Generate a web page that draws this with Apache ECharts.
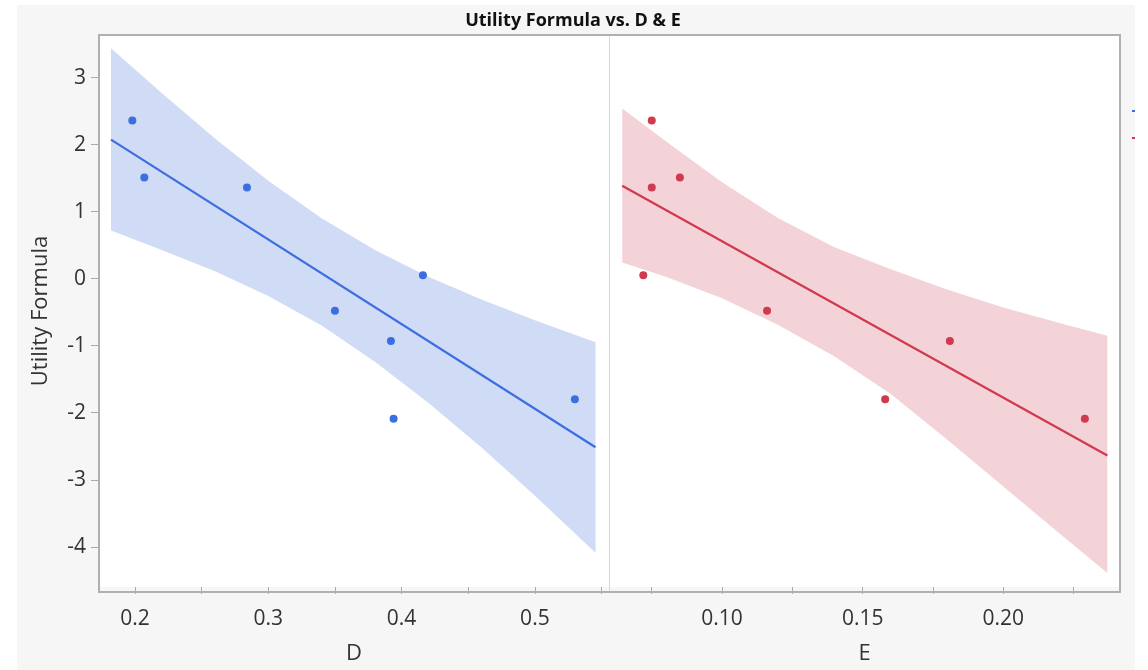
<!DOCTYPE html>
<html>
<head>
    <meta charset="utf-8">
    <style>
        html, body {
            width: 100%;
            height: 100%;
            margin: 0;
            background: #fff;
        }

        #chart-panel {
            width: 1148px;
            height: 670px;
        }
    </style>
    <script src="https://cdn.jsdelivr.net/npm/echarts@6/dist/echarts.min.js"></script>
</head>
<body>
<div id="chart-panel"></div>
<script type="text/javascript">
  // the 8 runs: utility against D and E
  var utility = [2.36, 1.51, 1.36, -0.48, -0.93, 0.05, -2.09, -1.80];
  var dVals = [0.198, 0.207, 0.284, 0.350, 0.392, 0.416, 0.394, 0.530];
  var eVals = [0.075, 0.085, 0.075, 0.116, 0.181, 0.072, 0.229, 0.158];

  // line of fit at both ends
  var dFitX = [0.182, 0.5455];
  var dFitY = [2.075, -2.515];
  var eFitX = [0.0645, 0.237];
  var eFitY = [1.386, -2.638];

  // confidence band of the fit
  var dBandX = [0.182, 0.22, 0.26, 0.30, 0.34, 0.38, 0.42, 0.46, 0.50, 0.5455];
  var dBandHi = [3.44, 2.77, 2.09, 1.46, 0.90, 0.43, 0.03, -0.31, -0.62, -0.95];
  var dBandLo = [0.72, 0.43, 0.11, -0.26, -0.70, -1.24, -1.85, -2.52, -3.24, -4.09];
  var eBandX = [0.0645, 0.08, 0.10, 0.12, 0.14, 0.16, 0.18, 0.20, 0.22, 0.237];
  var eBandHi = [2.54, 2.05, 1.44, 0.90, 0.47, 0.14, -0.16, -0.43, -0.66, -0.85];
  var eBandLo = [0.24, 0.03, -0.29, -0.69, -1.16, -1.72, -2.40, -3.10, -3.80, -4.39];

  // ticks and labels
  var yTicks = [-4, -3, -2, -1, 0, 1, 2, 3];
  var dTicks = [0.2, 0.25, 0.3, 0.35, 0.4, 0.45, 0.5, 0.55];
  var dLabels = [0.2, 0.3, 0.4, 0.5];
  var eTicks = [0.075, 0.1, 0.125, 0.15, 0.175, 0.2, 0.225];
  var eLabels = [0.10, 0.15, 0.20];

  var blue = '#3d6ee0';
  var red = '#d1394e';
  var font = "'Open Sans', 'Liberation Sans', sans-serif";

  function pairs(xs, ys) {
    return xs.map(function (x, i) { return [x, ys[i]]; });
  }

  function xAxis(idx, name, min, max, ticks, labels, digits) {
    return {
      type: 'value',
      gridIndex: idx,
      name: name,
      nameLocation: 'middle',
      nameGap: 56,
      nameTextStyle: {fontSize: 22, color: '#333', fontFamily: font},
      min: min,
      max: max,
      axisLine: {show: false, onZero: false},
      axisTick: {show: true, length: 7, customValues: ticks, lineStyle: {color: '#aaa'}},
      axisLabel: {
        customValues: labels,
        margin: 22,
        fontSize: 21,
        color: '#333',
        fontFamily: font,
        formatter: function (v) { return v.toFixed(digits); }
      },
      splitLine: {show: false}
    };
  }

  function yAxis(idx, visible) {
    return {
      type: 'value',
      gridIndex: idx,
      min: -4.6,
      max: 3.636,
      show: visible,
      name: visible ? 'Utility Formula' : '',
      nameLocation: 'middle',
      nameGap: 47,
      nameTextStyle: {fontSize: 22, color: '#333', fontFamily: font},
      axisLine: {show: false, onZero: false},
      axisTick: {show: true, length: 8, customValues: yTicks, lineStyle: {color: '#aaa'}},
      axisLabel: {customValues: yTicks, margin: 13, fontSize: 21, color: '#333', fontFamily: font},
      splitLine: {show: false}
    };
  }

  // band drawn as one polygon: upper edge left to right, lower edge back
  function bandSeries(idx, xs, hi, lo, fill) {
    return {
      type: 'custom',
      xAxisIndex: idx,
      yAxisIndex: idx,
      silent: true,
      z: 1,
      data: xs.map(function (x, i) { return [x, lo[i], hi[i]]; }),
      renderItem: function (params, api) {
        if (params.dataIndex !== 0) return null;
        var pts = [];
        xs.forEach(function (x, i) { pts.push(api.coord([x, hi[i]])); });
        for (var i = xs.length - 1; i >= 0; i--) pts.push(api.coord([xs[i], lo[i]]));
        return {type: 'polygon', shape: {points: pts}, style: {fill: fill}};
      }
    };
  }

  var myChart = echarts.init(document.getElementById('chart-panel'));

  var option = {
    backgroundColor: '#f6f6f6',
    animation: false,
    title: {
      text: 'Utility Formula vs. D & E',
      left: 568,
      top: 7,
      textAlign: 'center',
      textStyle: {fontSize: 18, fontWeight: 'bold', color: '#111', fontFamily: font}
    },
    legend: {
      orient: 'vertical',
      left: 1127,
      top: 105,
      itemWidth: 10,
      itemHeight: 2,
      itemGap: 25,
      selectedMode: false,
      formatter: function () { return ''; },
      textStyle: {fontSize: 1, lineHeight: 2},
      data: [{name: 'D fit', icon: 'rect'}, {name: 'E fit', icon: 'rect'}]
    },
    grid: [
      {left: 99, top: 35, width: 510, height: 557, show: true, backgroundColor: '#fff', borderWidth: 0},
      {left: 609, top: 35, width: 511, height: 557, show: true, backgroundColor: '#fff', borderWidth: 0}
    ],
    xAxis: [
      xAxis(0, 'D', 0.173, 0.5556, dTicks, dLabels, 1),
      xAxis(1, 'E', 0.0598, 0.2415, eTicks, eLabels, 2)
    ],
    yAxis: [yAxis(0, true), yAxis(1, false)],
    series: [
      bandSeries(0, dBandX, dBandHi, dBandLo, '#d0dcf5'),
      bandSeries(1, eBandX, eBandHi, eBandLo, '#f4d3d8'),
      {
        name: 'D fit',
        type: 'line',
        xAxisIndex: 0,
        yAxisIndex: 0,
        symbol: 'none',
        z: 3,
        color: blue,
        lineStyle: {width: 2.2, color: blue},
        data: pairs(dFitX, dFitY)
      }, {
        name: 'E fit',
        type: 'line',
        xAxisIndex: 1,
        yAxisIndex: 1,
        symbol: 'none',
        z: 3,
        color: red,
        lineStyle: {width: 2.2, color: red},
        data: pairs(eFitX, eFitY)
      }, {
        name: 'D',
        type: 'scatter',
        xAxisIndex: 0,
        yAxisIndex: 0,
        symbolSize: 8,
        z: 4,
        itemStyle: {color: blue, opacity: 1},
        data: pairs(dVals, utility)
      }, {
        name: 'E',
        type: 'scatter',
        xAxisIndex: 1,
        yAxisIndex: 1,
        symbolSize: 8,
        z: 4,
        itemStyle: {color: red, opacity: 1},
        data: pairs(eVals, utility)
      }
    ],
    graphic: [
      // frame of the plot and the panel divider
      {type: 'rect', z: 50, silent: true, shape: {x: 99, y: 35, width: 1021, height: 557},
        style: {fill: 'none', stroke: '#b0b0b0', lineWidth: 2}},
      {type: 'line', z: 50, silent: true, shape: {x1: 609.5, y1: 36, x2: 609.5, y2: 591},
        style: {stroke: '#d6d6d6', lineWidth: 1}},
      // white margins of the screenshot
      {type: 'rect', z: 100, silent: true, shape: {x: 0, y: 0, width: 17, height: 670}, style: {fill: '#fff'}},
      {type: 'rect', z: 100, silent: true, shape: {x: 0, y: 0, width: 1148, height: 5}, style: {fill: '#fff'}},
      {type: 'rect', z: 100, silent: true, shape: {x: 1135, y: 0, width: 13, height: 670}, style: {fill: '#fff'}}
    ]
  };

  myChart.setOption(option);
</script>
</body>
</html>
